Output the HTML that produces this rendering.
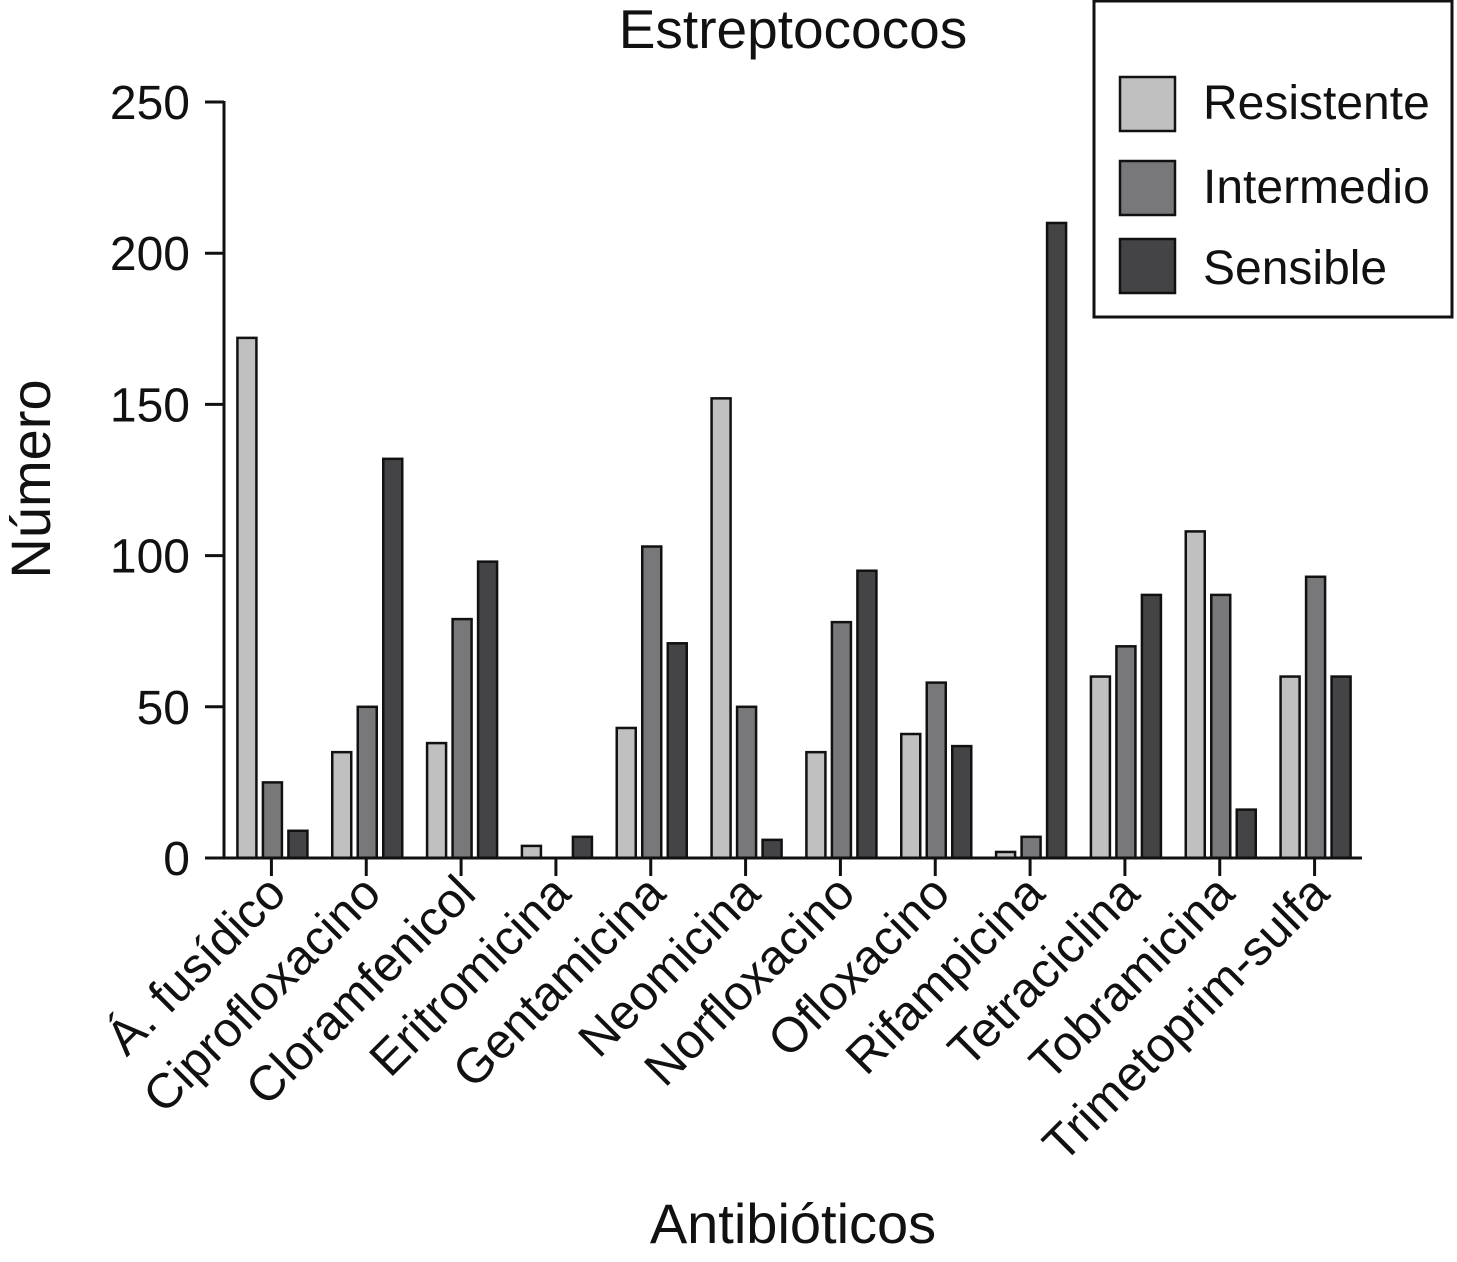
<!DOCTYPE html>
<html><head><meta charset="utf-8"><style>
body{margin:0;background:#fff}
svg text{font-family:"Liberation Sans",sans-serif;fill:#111}
</style></head><body>
<svg id="c" width="1457" height="1257" viewBox="0 0 1457 1257" xmlns="http://www.w3.org/2000/svg">
<text x="793" y="48" font-size="55" text-anchor="middle">Estreptococos</text>
<text transform="translate(50,479) rotate(-90)" font-size="56" text-anchor="middle">Número</text>
<text x="793" y="1243" font-size="56" text-anchor="middle">Antibióticos</text>
<g id="bars"></g><g id="axes"></g>
<g>
<rect x="1094" y="1" width="358" height="316" fill="#fff" stroke="#111" stroke-width="3"/>
<rect x="1120" y="77" width="55" height="54" fill="#c0c0c0" stroke="#111" stroke-width="2.5"/>
<text x="1203" y="119" font-size="48">Resistente</text>
<rect x="1120" y="161" width="55" height="54" fill="#78787a" stroke="#111" stroke-width="2.5"/>
<text x="1203" y="203" font-size="48">Intermedio</text>
<rect x="1120" y="239" width="55" height="54" fill="#444446" stroke="#111" stroke-width="2.5"/>
<text x="1203" y="284" font-size="48">Sensible</text>
</g>
</svg>
<script>
const categories=["Á. fusídico","Ciprofloxacino","Cloramfenicol","Eritromicina","Gentamicina","Neomicina","Norfloxacino","Ofloxacino","Rifampicina","Tetraciclina","Tobramicina","Trimetoprim-sulfa"];
const resistente=[172,35,38,4,43,152,35,41,2,60,108,60];
const intermedio=[25,50,79,0,103,50,78,58,7,70,87,93];
const sensible=[9,132,98,7,71,6,95,37,210,87,16,60];
const yTicks=[0,50,100,150,200,250];
const NS="http://www.w3.org/2000/svg";
const x0=224,x1=1362,y0=858,yTop=102,yMax=250;
const step=(x1-x0)/categories.length;
const yS=v=>y0-(v/yMax)*(y0-yTop);
const xC=i=>x0+step*(i+0.5);
function mk(t,a,p){const e=document.createElementNS(NS,t);for(const k in a)e.setAttribute(k,a[k]);p.appendChild(e);return e;}
const bars=document.getElementById('bars'),axes=document.getElementById('axes');
const series=[[resistente,"#c0c0c0",-34,"resistente"],[intermedio,"#78787a",-8.5,"intermedio"],[sensible,"#444446",17,"sensible"]];
categories.forEach((c,i)=>{
 series.forEach(s=>{
  const v=s[0][i];if(v<=0)return;
  const r=mk('rect',{x:xC(i)+s[2],y:yS(v),width:19,height:y0-yS(v),fill:s[1],stroke:'#111','stroke-width':2.5},bars);
  
  
 });
 const tk=mk('line',{x1:xC(i),x2:xC(i),y1:y0,y2:y0+18,stroke:'#111','stroke-width':3},axes);
 
 
 const t=mk('text',{transform:`translate(${xC(i)+17},${y0+38}) rotate(-45)`,'font-size':49,'text-anchor':'end'},axes);
 t.textContent=c;
 
 
});
yTicks.forEach(v=>{
 const l=mk('line',{x1:205,x2:x0,y1:yS(v),y2:yS(v),stroke:'#111','stroke-width':3},axes);
 
 
 const t=mk('text',{x:190,y:yS(v)+17,'font-size':48,'text-anchor':'end'},axes);
 t.textContent=v;
 
 
});
const ya=mk('line',{x1:x0,x2:x0,y1:yTop-1,y2:y0+1.5,stroke:'#111','stroke-width':3},axes);


const xa=mk('line',{x1:x0-1.5,x2:x1,y1:y0,y2:y0,stroke:'#111','stroke-width':3},axes);


</script>
</body></html>
